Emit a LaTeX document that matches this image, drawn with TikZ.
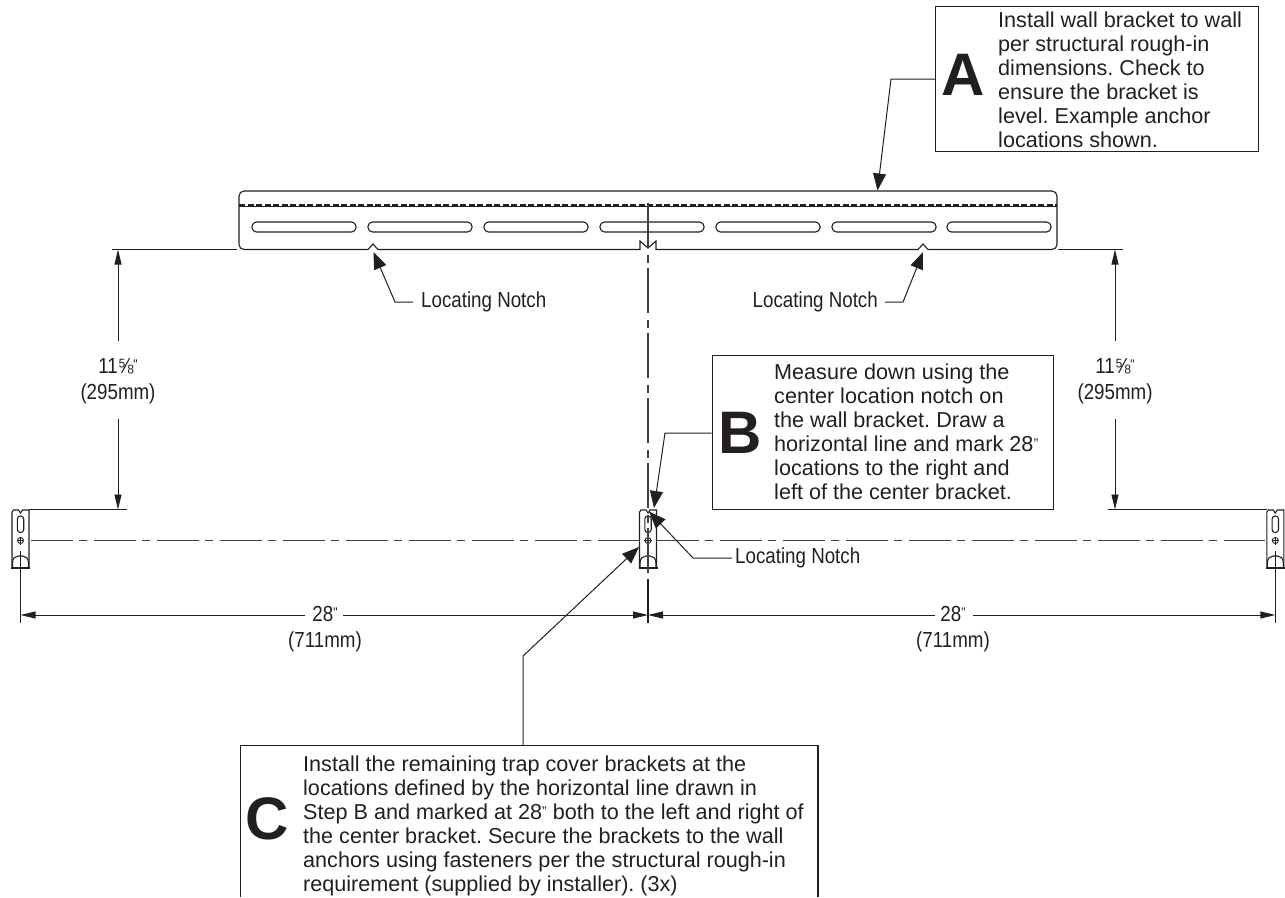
\documentclass[tikz,border=0pt]{standalone}
\usepackage{fontspec}
\usepackage{tikz}
\usetikzlibrary{arrows.meta}
\setmainfont{Liberation Sans}
\newfontfamily\condfont[FakeStretch=0.86]{Liberation Sans}
\definecolor{ink}{HTML}{231F20}
\tikzset{
  outline/.style={draw=ink, line width=1.1pt},
  slot/.style={draw=ink, line width=1.1pt, rounded corners=4.5pt},
  callout/.style={draw=ink, line width=1pt, -{Triangle[length=17pt,width=13pt]}},
  dimline/.style={draw=ink, line width=0.9pt, -{Triangle[length=15pt,width=7pt]}},
  centerline/.style={draw=ink!85, line width=1.2pt},
  stepbox/.style={draw=ink, line width=1.2pt, inner sep=0pt, anchor=north west},
  steptext/.style={text=ink, inner sep=0pt, anchor=north west, align=left, font=\frenchspacing\fontsize{21.6}{24}\selectfont},
  stepletter/.style={text=ink, inner sep=0pt, font=\fontsize{60}{60}\bfseries\selectfont},
  dimtext/.style={text=ink, inner sep=0pt, align=center, font=\condfont\fontsize{21.8}{26}\selectfont},
}
\newcommand{\inchmark}{{\fontsize{14}{14}\selectfont\raisebox{0.5ex}{"}}}
% small trap cover bracket, #1 = x of its center
\newcommand{\coverclip}[1]{
  \begin{scope}[xshift=#1pt]
  \draw[outline] (-8.5,568)--(-8.5,512)--(-7,510)--(-2,510)--(0,513)--(2,510)--(8.5,510)--(8.5,568);
  \draw[outline] (-9.5,568)--(9.5,568);
  \draw[outline] (-8,568)--(-8,563) .. controls (-8,558) and (-5,556) .. (-2,556)--(2,556) .. controls (5,556) and (8,558) .. (8,563)--(8,568);
  \draw[slot, rounded corners=3pt] (-3.2,516) rectangle (3.2,532.5);
  \draw[outline, line width=0.9pt] (0,540.5) circle (3);
  \draw[outline, line width=0.9pt] (-3.8,540.5)--(3.8,540.5);
  \draw[outline, line width=0.9pt] (0,536.5)--(0,544.5);
  \end{scope}
}

\begin{document}
\begin{tikzpicture}[x=1pt,y=-1pt]
\useasboundingbox (0,0) rectangle (1285,897);

% wall bracket
\draw[outline, rounded corners=5pt] (239,220)--(239,191)--(1057,191)--(1057,249.5)--(928,249.5);
\draw[outline, rounded corners=5pt] (239,220)--(239,249.5)--(368,249.5);
\draw[outline] (368,249.5)--(373,244)--(378,249.5)--(640,249.5)--(640,241)--(648,248)--(656,241)--(656,249.5)--(918,249.5)--(923,244)--(928,249.5);
\draw[outline] (239,206.8)--(1057,206.8);
\draw[outline, line width=1.4pt, dash pattern=on 6pt off 2.5pt] (239,204.8)--(1057,204.8);
\draw[slot] (252,222) rectangle (356,232);
\draw[slot] (368,222) rectangle (472,232);
\draw[slot] (484,222) rectangle (588,232);
\draw[slot] (600,222) rectangle (704,232);
\draw[slot] (716,222) rectangle (820,232);
\draw[slot] (832,222) rectangle (936,232);
\draw[slot] (947,222) rectangle (1051,232);

% cover brackets
\coverclip{20.5}
\coverclip{648}
\coverclip{1275.3}

% center lines
\draw[centerline, dash pattern=on 42pt off 6pt on 8pt off 7pt] (30.7,540.5)--(638.5,540.5);
\draw[centerline, dash pattern=on 42pt off 6pt on 8pt off 7pt] (657,540.5)--(1265,540.5);
\draw[centerline, dash pattern=on 45pt off 7pt on 8pt off 5pt] (648,203)--(648,573);
\draw[outline, line width=1.3pt] (648,579)--(648,622.5);
\draw[outline] (20.5,551)--(20.5,622.5);
\draw[outline] (1275.3,551)--(1275.3,622.5);

% extension lines
\draw[outline] (112,249.5)--(237,249.5);
\draw[outline] (1058,249.5)--(1123,249.5);
\draw[outline] (29,509.5)--(127,509.5);
\draw[outline] (1108,509.5)--(1267,509.5);

% vertical dimensions
\coordinate (leftup) at (118,249.5);
\coordinate (leftdown) at (118,509.5);
\coordinate (rightup) at (1115,249.5);
\coordinate (rightdown) at (1115,509.5);
\node[dimtext] (lefthigh) at (118,381) {11⅝\inchmark\\(295mm)};
\node[dimtext] (righthigh) at (1115,381) {11⅝\inchmark\\(295mm)};
\draw[dimline] (lefthigh.north |- 0,341)--(leftup);
\draw[dimline] (lefthigh.south |- 0,419)--(leftdown);
\draw[dimline] (righthigh.north |- 0,341)--(rightup);
\draw[dimline] (righthigh.south |- 0,419)--(rightdown);

% horizontal dimensions
\coordinate (farleft) at (20.5,615);
\coordinate (midleft) at (648,615);
\coordinate (farright) at (1275.3,615);
\node[dimtext] (leftwide) at (325,629) {28\inchmark\\(711mm)};
\node[dimtext] (rightwide) at (953,629) {28\inchmark\\(711mm)};
\draw[dimline] (305,615)--(farleft);
\draw[dimline] (343,615)--(midleft);
\draw[dimline] (935,615)--(midleft);
\draw[dimline] (973,615)--(farright);

% notch labels
\node[dimtext, anchor=west] (notcha) at (421,302) {Locating Notch};
\node[dimtext, anchor=east] (notchb) at (878,302) {Locating Notch};
\node[dimtext, anchor=west] (notchc) at (735,558) {Locating Notch};
\coordinate (notchatip) at (373.5,252);
\coordinate (notchbtip) at (923,252);
\coordinate (notchctip) at (649,511.5);
\draw[callout] (notcha.west) ++(-8,0)--(395,302)--(notchatip);
\draw[callout] (notchb.east) ++(7,0)--(903,302)--(notchbtip);
\draw[callout] (notchc.west) ++(-3,0)--(693,558)--(notchctip);

% step A
\node[stepbox, minimum width=323pt, minimum height=145pt] (boxa) at (935,6) {};
\node[stepletter] (lettera) at (963,75) {A};
\node[steptext] (texta) at (998,12) {Install wall bracket to wall\\per structural rough-in\\dimensions. Check to\\ensure the bracket is\\level. Example anchor\\locations shown.};
\coordinate (tipa) at (877.5,190.5);
\draw[callout] (boxa.west |- 0,79)--(891,79)--(tipa);

% step B
\node[stepbox, minimum width=341pt, minimum height=153.5pt] (boxb) at (711.5,355) {};
\node[stepletter] (letterb) at (740,432.5) {B};
\node[steptext] (textb) at (774,364) {Measure down using the\\center location notch on\\the wall bracket. Draw a\\horizontal line and mark 28\inchmark\\locations to the right and\\left of the center bracket.};
\coordinate (tipb) at (654,508);
\draw[callout] (boxb.west |- 0,433)--(665,433)--(tipb);

% step C
\draw[outline, line width=1.2pt] (240.5,897)--(240.5,745.5)--(818,745.5)--(818,897);
\node[stepletter] (letterc) at (267.5,819) {C};
\node[steptext] (textc) at (303,756) {Install the remaining trap cover brackets at the\\locations defined by the horizontal line drawn in\\Step B and marked at 28\inchmark\ both to the left and right of\\the center bracket. Secure the brackets to the wall\\anchors using fasteners per the structural rough-in\\requirement (supplied by installer). (3x)};
\coordinate (topc) at (523,745.5);
\coordinate (tipc) at (639,547);
\draw[callout] (topc)--(523,656)--(tipc);
\end{tikzpicture}
\end{document}
